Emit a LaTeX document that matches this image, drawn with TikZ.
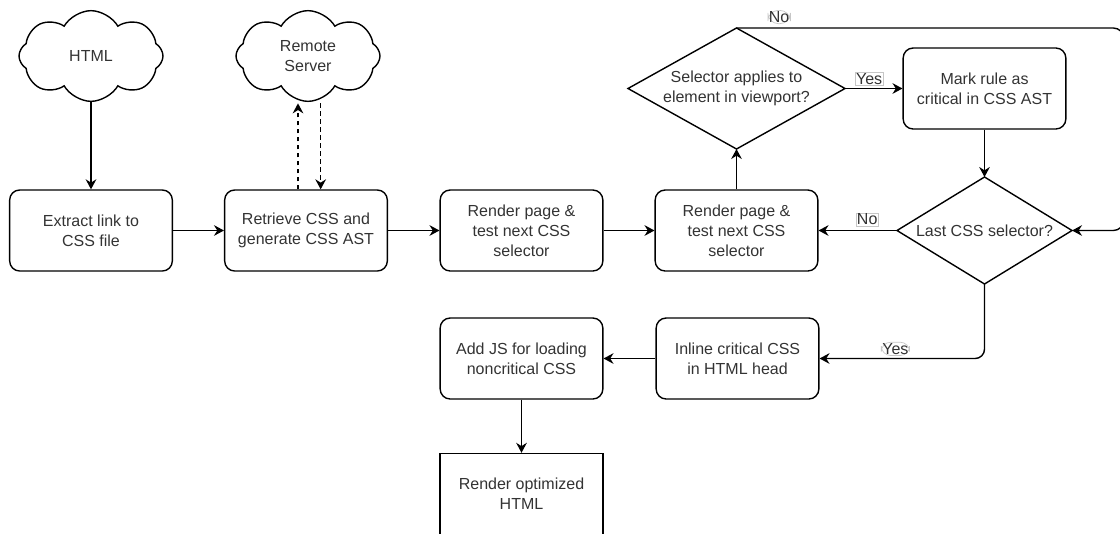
\documentclass[tikz,border=0pt]{standalone}
\usepackage{fontspec}
\setmainfont{Liberation Sans}
\usetikzlibrary{shapes.geometric,shapes.symbols,arrows.meta}
\definecolor{txt}{HTML}{333333}
\begin{document}
\begin{tikzpicture}[x=0.75pt,y=-0.75pt,
  every node/.style={font=\fontsize{12}{15}\selectfont, text=txt},
  proc/.style={draw, rounded corners=7.5pt, minimum width=122pt, minimum height=60.75pt, align=center, line width=1.05pt, inner sep=2pt},
  sqproc/.style={draw, minimum width=122pt, minimum height=60.75pt, align=center, line width=1.05pt, inner sep=2pt},
  dec/.style={draw, diamond, align=center, line width=1.05pt, inner sep=0pt, outer sep=0pt},
  cld/.style={draw, cloud, cloud puffs=8, cloud puff arc=120, aspect=1.6, minimum width=108pt, minimum height=68pt, align=center, line width=1.05pt, inner sep=0pt},
  arr/.style={line width=1.05pt, -{Stealth[length=7.5pt,width=8pt,inset=2.5pt]}},
  lbl/.style={draw=gray!45, fill=white, inner sep=0.8pt, line width=0.5pt},
]
\useasboundingbox (0,0) rectangle (1120,533);
% clouds
\node[cld] (html) at (91,56) {HTML};
\node[cld] (remote) at (308,56) {Remote\\Server};
% main row
\node[proc] (ext) at (91,230.5) {Extract link to\\CSS file};
\node[proc] (ret) at (306,230.5) {Retrieve CSS and\\generate CSS AST};
\node[proc] (r1) at (521.5,230.5) {Render page \&\\test next CSS\\selector};
\node[proc] (r2) at (736.5,230.5) {Render page \&\\test next CSS\\selector};
% decisions
\node[dec, aspect=1.79, minimum width=162.75pt, minimum height=90.75pt] (d1) at (736.5,88.5) {Selector applies to\\element in viewport?};
\node[proc] (mark) at (984.5,88.5) {Mark rule as\\critical in CSS AST};
\node[dec, aspect=1.64, minimum width=131.25pt, minimum height=80.25pt] (d2) at (984.5,230.5) {Last CSS selector?};
% lower row
\node[proc] (inl) at (737.5,358.5) {Inline critical CSS\\in HTML head};
\node[proc] (js) at (521.5,358.5) {Add JS for loading\\noncritical CSS};
\node[sqproc] (ropt) at (521.5,494) {Render optimized\\HTML};
% loop coordinates (outside the visible area on the right)
\path (d1.north) ++(387.5,0) coordinate (c1);
\path (d2.east) ++(52,0) coordinate (c2);
% connectors
\draw[arr] (html.south) -- (ext.north);
\draw[arr] (ext) -- (ret);
\draw[arr, dashed, dash pattern=on 3.5pt off 2.5pt] ([xshift=-6pt]ret.north) -- ([xshift=-6pt,yshift=-1pt]ret.north |- remote.south);
\draw[arr, dashed, dash pattern=on 3.5pt off 2.5pt] ([xshift=11pt,yshift=-1pt]ret.north |- remote.south) -- ([xshift=11pt]ret.north);
\draw[arr] (ret) -- (r1);
\draw[arr] (r1) -- (r2);
\draw[arr] (r2.north) -- (d1.south);
\draw[arr] (d1.east) -- node[lbl, above=2pt, pos=0.42] {Yes} (mark.west);
\draw[arr, rounded corners=8pt] (d1.north) -- node[lbl, above=3pt, pos=0.11] {No} (c1) |- (d2.east);
\draw[arr] (mark.south) -- (d2.north);
\draw[arr] (d2.west) -- node[lbl, above=3pt, pos=0.38] {No} (r2.east);
\draw[arr, rounded corners=7pt] (d2.south) |- node[lbl, above=2pt, pos=0.77] {Yes} (inl.east);
\draw[arr] (inl) -- (js);
\draw[arr] (js) -- (ropt);
\end{tikzpicture}
\end{document}
